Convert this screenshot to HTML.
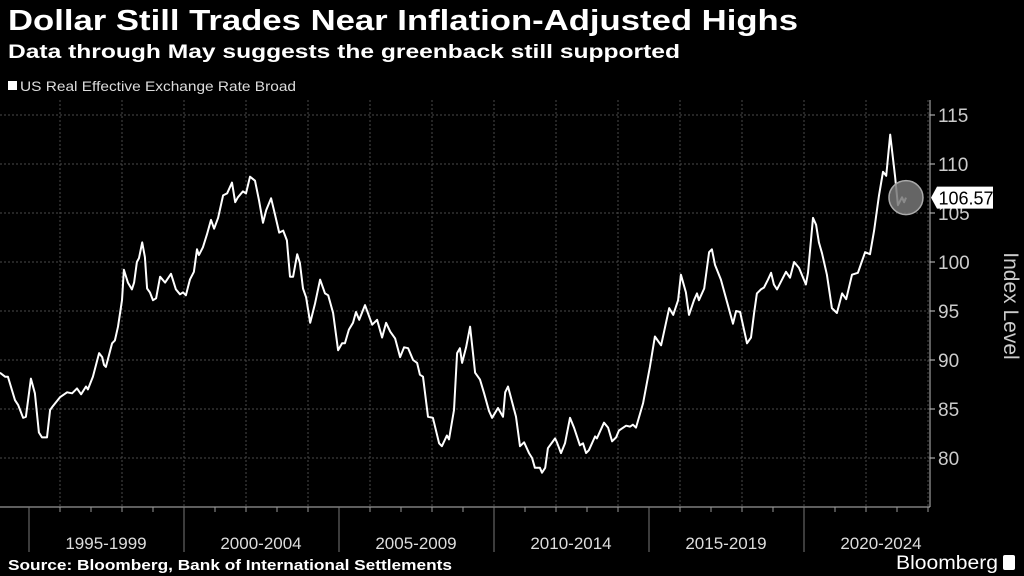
<!DOCTYPE html>
<html><head><meta charset="utf-8"><style>
html,body{margin:0;padding:0;background:#000;}
svg{display:block;}
text{font-family:"Liberation Sans Narrow","Liberation Sans",sans-serif;}
</style></head><body>
<svg id="chart" width="1024" height="576" viewBox="0 0 1024 576">
<rect width="1024" height="576" fill="#000"/>
<text x="8" y="30" fill="#fff" font-size="29" font-weight="bold" textLength="790" lengthAdjust="spacingAndGlyphs">Dollar Still Trades Near Inflation-Adjusted Highs</text>
<text x="8" y="58" fill="#fff" font-size="19" font-weight="bold" textLength="672" lengthAdjust="spacingAndGlyphs">Data through May suggests the greenback still supported</text>
<rect x="8" y="81" width="9" height="9" fill="#fff"/>
<text x="20" y="91" fill="#ddd" font-size="14" textLength="276" lengthAdjust="spacingAndGlyphs">US Real Effective Exchange Rate Broad</text>
<g id="grid"></g>
<g id="axes"></g>
<path id="line" fill="none" stroke="#fff" stroke-width="2" stroke-linejoin="round"/>
<g id="marker"></g>
<text transform="translate(1004,306) rotate(90)" fill="#ccc" font-size="21" text-anchor="middle">Index Level</text>
<text x="8" y="570" fill="#fff" font-size="15" font-weight="bold" textLength="444" lengthAdjust="spacingAndGlyphs">Source: Bloomberg, Bank of International Settlements</text>
<text x="896" y="569" fill="#fff" font-size="19" textLength="102" lengthAdjust="spacingAndGlyphs">Bloomberg</text>
<rect x="1003" y="555" width="12" height="15" rx="2" fill="#fff"/>
</svg>
<script>
const dates=[1994.06,1994.23,1994.32,1994.55,1994.65,1994.81,1994.90,1995.06,1995.19,1995.32,1995.42,1995.58,1995.68,1995.77,1996.00,1996.23,1996.39,1996.55,1996.68,1996.84,1996.90,1997.06,1997.26,1997.36,1997.42,1997.48,1997.68,1997.77,1997.87,1998.00,1998.06,1998.19,1998.32,1998.39,1998.48,1998.55,1998.65,1998.74,1998.81,1998.90,1999.00,1999.10,1999.23,1999.39,1999.58,1999.74,1999.87,1999.97,2000.06,2000.19,2000.32,2000.42,2000.48,2000.61,2000.74,2000.87,2000.97,2001.10,2001.26,2001.39,2001.55,2001.65,2001.74,2001.90,2002.00,2002.13,2002.29,2002.42,2002.55,2002.65,2002.81,2002.94,2003.07,2003.20,2003.32,2003.42,2003.52,2003.65,2003.74,2003.84,2003.94,2004.07,2004.23,2004.39,2004.55,2004.65,2004.81,2004.97,2005.10,2005.19,2005.32,2005.45,2005.55,2005.65,2005.84,2006.07,2006.23,2006.39,2006.52,2006.65,2006.81,2006.97,2007.10,2007.23,2007.39,2007.52,2007.61,2007.71,2007.87,2008.03,2008.23,2008.32,2008.48,2008.55,2008.71,2008.81,2008.90,2008.97,2009.10,2009.23,2009.39,2009.55,2009.68,2009.84,2009.94,2010.13,2010.29,2010.36,2010.45,2010.71,2010.84,2010.97,2011.13,2011.23,2011.32,2011.48,2011.55,2011.65,2011.74,2011.97,2012.03,2012.16,2012.29,2012.45,2012.58,2012.77,2012.87,2012.97,2013.06,2013.26,2013.32,2013.55,2013.68,2013.81,2013.94,2014.03,2014.26,2014.39,2014.48,2014.58,2014.81,2015.03,2015.19,2015.39,2015.65,2015.78,2015.94,2016.03,2016.19,2016.29,2016.45,2016.55,2016.61,2016.78,2016.94,2017.03,2017.13,2017.32,2017.52,2017.71,2017.81,2017.94,2018.16,2018.29,2018.39,2018.48,2018.61,2018.71,2018.84,2018.94,2019.03,2019.13,2019.42,2019.55,2019.68,2019.84,2020.06,2020.13,2020.29,2020.39,2020.48,2020.58,2020.74,2020.90,2021.06,2021.23,2021.36,2021.55,2021.74,2021.97,2022.13,2022.26,2022.42,2022.55,2022.65,2022.78,2022.94,2023.03,2023.16,2023.23,2023.29];
const values=[88.7,88.3,88.3,85.9,85.4,84.1,84.2,88.1,86.6,82.6,82.1,82.1,84.9,85.3,86.2,86.7,86.6,87.1,86.5,87.3,87.0,88.3,90.7,90.3,89.5,89.3,91.7,92.0,93.4,96.1,99.2,97.9,97.2,97.9,100.0,100.4,102.0,100.5,97.3,96.9,96.1,96.3,98.5,97.9,98.8,97.2,96.7,96.9,96.6,98.2,99.0,101.3,100.7,101.5,102.8,104.3,103.4,104.5,106.8,107.0,108.1,106.1,106.6,107.2,107.0,108.7,108.3,106.3,104.0,105.3,106.5,104.8,103.0,103.2,102.2,98.5,98.5,100.8,99.9,97.3,96.4,93.8,95.8,98.2,96.8,96.6,94.8,91.0,91.7,91.7,93.1,93.8,94.9,94.1,95.6,93.6,94.1,92.3,93.8,92.9,92.2,90.3,91.3,91.2,90.0,89.7,88.5,88.3,84.2,84.1,81.5,81.2,82.3,81.9,84.9,90.7,91.2,89.7,91.3,93.4,88.7,88.0,86.6,84.8,84.1,85.1,84.2,86.7,87.3,84.2,81.2,81.6,80.5,80.0,79.0,79.0,78.5,79.0,81.0,82.0,81.6,80.5,81.5,84.1,83.1,81.3,81.5,80.5,80.8,82.2,82.0,83.6,83.1,81.7,82.1,82.8,83.3,83.2,83.4,83.1,85.6,89.3,92.4,91.5,95.3,94.6,96.1,98.7,96.9,94.6,96.1,96.8,96.1,97.3,101.0,101.3,99.7,98.2,95.9,93.7,95.0,94.9,91.7,92.3,94.8,96.8,97.2,97.4,98.2,98.9,97.7,97.2,99.0,98.4,100.0,99.4,97.7,98.9,104.5,103.8,102.0,100.9,98.7,95.3,94.8,96.8,96.2,98.7,98.9,101.0,100.8,103.2,106.8,109.2,108.8,113.0,108.7,105.8,106.6,106.1,106.57];
const yTicks=[80,85,90,95,100,105,110,115];
const periodLabels=["1995-1999","2000-2004","2005-2009","2010-2014","2015-2019","2020-2024"];
const periodStarts=[1995,2000,2005,2010,2015,2020];
const lastLabel="106.57";

const NS="http://www.w3.org/2000/svg";
const X=t=>29+(t-1995)*31;
const Y=v=>115+(115-v)*9.8;
function mk(tag,attrs,parent){const e=document.createElementNS(NS,tag);for(const k in attrs)e.setAttribute(k,attrs[k]);parent.appendChild(e);return e;}
const grid=document.getElementById('grid'),axes=document.getElementById('axes');
yTicks.forEach(v=>{
  const l=mk('line',{x1:0,x2:930,y1:Y(v),y2:Y(v),stroke:'#4a4a4a','stroke-width':1,'stroke-dasharray':'2,2'},grid);
  
  
  const tk=mk('line',{x1:930,x2:935,y1:Y(v),y2:Y(v),stroke:'#ccc'},axes);
  
  
  const t=mk('text',{x:938,y:Y(v)+7,fill:'#ccc','font-size':19},axes);
  t.textContent=v;
  
  
});
for(let yr=1996;yr<=2024;yr+=2){
  const l=mk('line',{x1:X(yr),x2:X(yr),y1:100,y2:507,stroke:'#4a4a4a','stroke-width':1,'stroke-dasharray':'2,2'},grid);
  
  
}
const ax=mk('line',{x1:0,x2:930,y1:507,y2:507,stroke:'#bbb'},axes);


const ay=mk('line',{x1:930,x2:930,y1:100,y2:507,stroke:'#bbb'},axes);


for(let yr=1995;yr<=2024;yr++){
  const m=mk('line',{x1:X(yr),x2:X(yr),y1:507,y2:512,stroke:'#999'},axes);
  
  
}
periodStarts.forEach((s,i)=>{
  const sep=mk('line',{x1:X(s),x2:X(s),y1:507,y2:552,stroke:'#777'},axes);
  
  
  const t=mk('text',{x:X(s)+77,y:549,fill:'#ddd','font-size':17,'text-anchor':'middle'},axes);
  t.textContent=periodLabels[i];
  
  
});
let d='';
dates.forEach((t,i)=>{d+=(i?'L':'M')+X(t).toFixed(1)+','+Y(values[i]).toFixed(1);});
document.getElementById('line').setAttribute('d',d);
const mg=document.getElementById('marker');
const lx=X(dates[dates.length-1]),ly=Y(values[values.length-1]);
const c=mk('circle',{cx:lx,cy:ly,r:17,fill:'#777','fill-opacity':0.85,stroke:'#aaa','stroke-width':1.5},mg);


const bx=931,by=ly;
const badge=mk('path',{d:`M${bx},${by} L${bx+6},${by-11} L${bx+62},${by-11} L${bx+62},${by+11} L${bx+6},${by+11} Z`,fill:'#fff'},mg);


const bt=mk('text',{x:bx+35,y:by+7,fill:'#000','font-size':18,'text-anchor':'middle'},mg);
bt.textContent=lastLabel;


</script>
</body></html>
